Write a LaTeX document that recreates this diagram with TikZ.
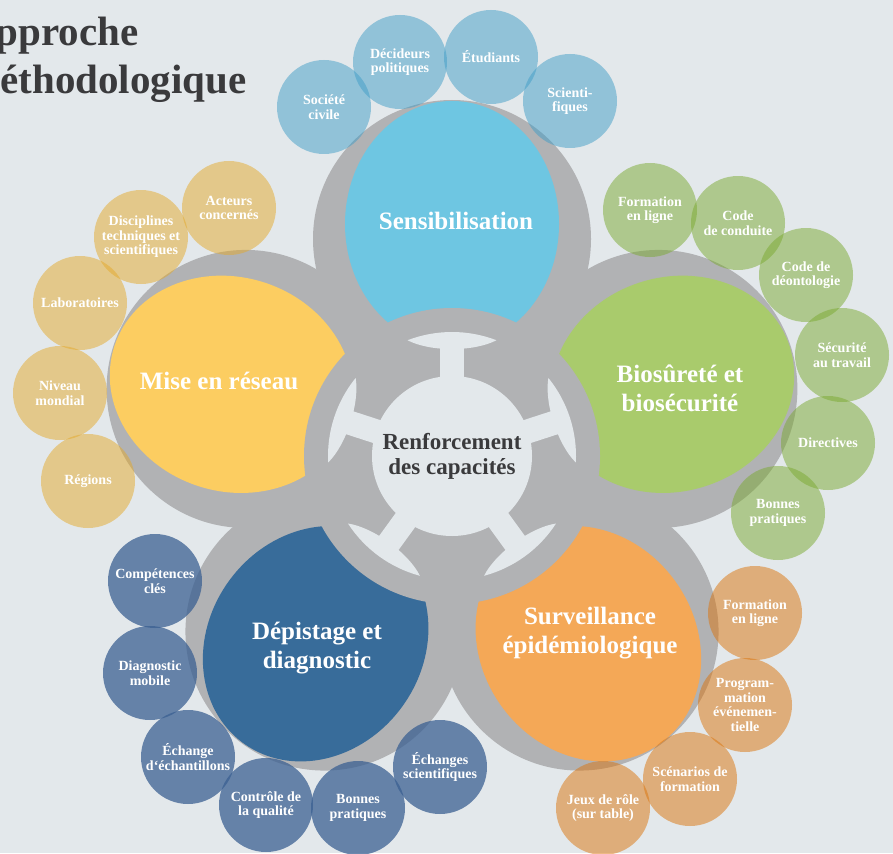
\documentclass[tikz,border=0pt]{standalone}
\usepackage{fontspec}
\setmainfont{Liberation Serif}
\definecolor{bg}{HTML}{E3E8EB}
\definecolor{ring}{HTML}{B1B2B4}
\definecolor{ink}{HTML}{3A3A3C}
\definecolor{sens}{HTML}{6EC6E2}
\definecolor{mise}{HTML}{FCCD61}
\definecolor{bios}{HTML}{A9CB6C}
\definecolor{depi}{HTML}{386C9A}
\definecolor{surv}{HTML}{F4A857}
\definecolor{sensleaf}{HTML}{419EC7}
\definecolor{miseleaf}{HTML}{E3AA2B}
\definecolor{biosleaf}{HTML}{7BAA31}
\definecolor{depileaf}{HTML}{3B6092}
\definecolor{survleaf}{HTML}{DB740B}
\begin{document}
\begin{tikzpicture}[x=1pt,y=-1pt,
  petal/.style={text=white,font=\bfseries\fontsize{25}{29}\selectfont,align=center},
  leaf/.style={circle,minimum size=94,inner sep=0pt,fill opacity=.5,text opacity=1,text=white,
    font=\bfseries\fontsize{14}{14.5}\selectfont,align=center}]
\useasboundingbox (0,0) rectangle (893,853);
\clip (0,0) rectangle (893,853);
\fill[bg] (0,0) rectangle (893,853);
\node[anchor=north west,inner sep=0pt,align=left,text=ink,font=\bfseries\fontsize{41}{48}\selectfont] (title) at (-34,17) {Approche\\méthodologique};
\coordinate (hub) at (452,456);
\foreach \a in {270,198,126,54,342}
    \fill[ring] (hub) ++(\a:217) circle (139);
\foreach \a/\c in {270/sens,198/mise,126/depi,54/surv,342/bios}
    \fill[\c,shift={(hub)},rotate=-\a] (232,0) ellipse (123 and 107);
\fill[ring] (hub) circle (148);
\fill[bg] (hub) circle (80);
\foreach \a in {270,198,126,54,342} {
    \fill[bg,shift={(hub)},rotate=-\a] (70,-12) rectangle (112,12);
    \fill[bg,shift={(hub)},rotate=-\a] (21:124) arc[start angle=21,end angle=-21,radius=124]
        .. controls (104,-22) and (104,22) .. (21:124) -- cycle;
}
\node[text=ink,font=\bfseries\fontsize{23}{25}\selectfont,align=center] (hubtext) at (hub) {Renforcement\\des capacités};
\node[petal] (sensi) at (456,221) {Sensibilisation};
\node[petal] (miser) at (219,381) {Mise en réseau};
\node[petal] (biosu) at (680,388) {Biosûreté et\\biosécurité};
\node[petal] (depis) at (317,648) {Dépistage et\\diagnostic};
\node[petal] (surve) at (590,633) {Surveillance\\épidémiologique};
\foreach \n/\p/\t in {soc/{324,107}/{Société\\civile},deci/{400,62}/{Décideurs\\politiques},
        etud/{491,57}/{Étudiants},scie/{570,101}/{Scienti-\\fiques}}
    \node[leaf,fill=sensleaf] (\n) at (\p) {\t};
\foreach \n/\p/\t in {acte/{229,208}/{Acteurs\\concernés},disc/{141,237}/{Disciplines\\techniques et\\scientifiques},
        labo/{80,303}/{Laboratoires},nive/{60,393}/{Niveau\\mondial},regi/{88,481}/{Régions}}
    \node[leaf,fill=miseleaf] (\n) at (\p) {\t};
\foreach \n/\p/\t in {form/{650,210}/{Formation\\en ligne},codc/{738,223}/{Code\\de conduite},
        codd/{806,275}/{Code de\\déontologie},secu/{842,355}/{Sécurité\\au travail},
        dire/{828,443}/{Directives},bonb/{778,513}/{Bonnes\\pratiques}}
    \node[leaf,fill=biosleaf] (\n) at (\p) {\t};
\foreach \n/\p/\t in {comp/{155,581}/{Compétences\\clés},diag/{150,673}/{Diagnostic\\mobile},
        echa/{188,757}/{Échange\\d‘échantillons},cont/{266,805}/{Contrôle de\\la qualité},
        bond/{358,808}/{Bonnes\\pratiques},echs/{440,767}/{Échanges\\scientifiques}}
    \node[leaf,fill=depileaf,fill opacity=.75] (\n) at (\p) {\t};
\foreach \n/\p/\t in {forl/{755,613}/{Formation\\en ligne},prog/{745,705}/{Program-\\mation\\événemen-\\tielle},
        scen/{690,779}/{Scénarios de\\formation},jeux/{603,808}/{Jeux de rôle\\(sur table)}}
    \node[leaf,fill=survleaf] (\n) at (\p) {\t};
\end{tikzpicture}
\end{document}
